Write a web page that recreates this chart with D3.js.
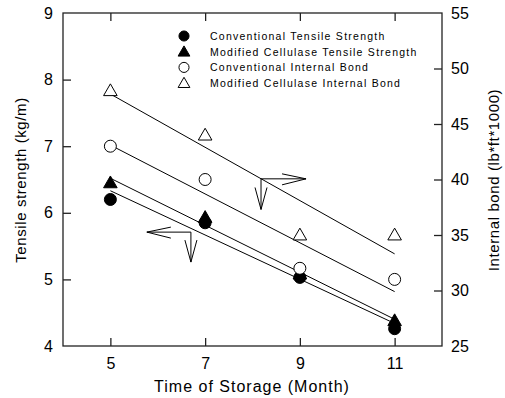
<!DOCTYPE html>
<html>
<head>
<meta charset="utf-8">
<script src="https://cdn.jsdelivr.net/npm/d3@7"></script>
<style>
body{margin:0;background:#fff;}
text{font-family:Arial,"Liberation Sans",sans-serif;fill:#000;}
</style>
</head>
<body>
<svg id="c" width="505" height="398"></svg>
<script>
// ---- data ----
const months = [5, 7, 9, 11];
const convTensile = [6.2, 5.85, 5.03, 4.26];
const modTensile = [6.45, 5.93, 5.08, 4.38];
const convBond = [43, 40, 32, 31];
const modBond = [48, 44, 35, 35];
const xTicks = [5, 7, 9, 11];
const yLeftTicks = [4, 5, 6, 7, 8, 9];
const yRightTicks = [25, 30, 35, 40, 45, 50, 55];
const legendLabels = ["Conventional Tensile Strength", "Modified Cellulase Tensile Strength",
  "Conventional Internal Bond", "Modified Cellulase Internal Bond"];
// annotation arrows (corner, horizontal end, vertical end) in data units of left axis
const arrowLeft = {x: 6.70, y: 5.71, xEnd: 5.77, yEnd: 5.26};
const arrowRight = {x: 8.18, y: 6.51, xEnd: 9.13, yEnd: 6.05};

const svg = d3.select("#c");
const m = {l: 63, r: 442, t: 13, b: 346};
const x = d3.scaleLinear().domain([4, 12]).range([m.l, m.r]);
const yL = d3.scaleLinear().domain([4, 9]).range([m.b, m.t]);
const yR = d3.scaleLinear().domain([25, 55]).range([m.b, m.t]);

// frame
const axCol = "#222";
svg.append("rect").attr("x", m.l).attr("y", m.t).attr("width", m.r - m.l).attr("height", m.b - m.t)
  .attr("fill", "none").attr("stroke", axCol).attr("stroke-width", 1.3);

const tickLen = 8;
const fmt = d3.format("d");
// axes (ticks inward)
const gB = svg.append("g").attr("transform", `translate(0,${m.b})`)
  .call(d3.axisBottom(x).tickValues(xTicks).tickFormat(fmt).tickSizeInner(-tickLen).tickSizeOuter(0).tickPadding(12));
const gT = svg.append("g").attr("transform", `translate(0,${m.t})`)
  .call(d3.axisTop(x).tickValues(xTicks).tickSizeInner(-tickLen).tickSizeOuter(0).tickFormat(""));
const gL = svg.append("g").attr("transform", `translate(${m.l},0)`)
  .call(d3.axisLeft(yL).tickValues(yLeftTicks).tickFormat(fmt).tickSizeInner(-tickLen).tickSizeOuter(0).tickPadding(10));
const gR = svg.append("g").attr("transform", `translate(${m.r},0)`)
  .call(d3.axisRight(yR).tickValues(yRightTicks).tickFormat(fmt).tickSizeInner(-tickLen).tickSizeOuter(0).tickPadding(9));
[gB, gT, gL, gR].forEach(g => {
  g.select(".domain").remove();
  g.selectAll(".tick line").attr("stroke", axCol).attr("stroke-width", 1.3);
  g.selectAll(".tick text").attr("font-size", 16).attr("font-family", "Arial, 'Liberation Sans', sans-serif").attr("fill", "#000");
});
gL.selectAll(".tick").filter(d => d === 4 || d === 9).select("line").remove();
gR.selectAll(".tick").filter(d => d === 25 || d === 55).select("line").remove();

// regression lines
function fit(xs, ys) {
  const mx = d3.mean(xs), my = d3.mean(ys);
  const s = d3.sum(xs, (v, i) => (v - mx) * (ys[i] - my)) / d3.sum(xs, v => (v - mx) ** 2);
  return v => my + s * (v - mx);
}
const series = [
  {vals: convTensile, y: yL, sym: "circle", fill: "#000"},
  {vals: modTensile, y: yL, sym: "triangle", fill: "#000"},
  {vals: convBond, y: yR, sym: "circle", fill: "#fff"},
  {vals: modBond, y: yR, sym: "triangle", fill: "#fff"}
];
const x0 = d3.min(months), x1 = d3.max(months);
series.forEach(s => {
  const f = fit(months, s.vals);
  svg.append("line").attr("x1", x(x0)).attr("y1", s.y(f(x0))).attr("x2", x(x1)).attr("y2", s.y(f(x1)))
    .attr("stroke", "#000").attr("stroke-width", 1);
});
function symPath(sym, size) {
  return d3.symbol().type(sym === "circle" ? d3.symbolCircle : d3.symbolTriangle).size(size)();
}
const order = [3, 1, 0, 2];
order.forEach(k => {
  const s = series[k];
  svg.append("g").selectAll("path").data(months).join("path")
    .attr("d", symPath(s.sym, s.sym === "circle" ? 113 : 80))
    .attr("transform", (d, i) => `translate(${x(d)},${s.y(s.vals[i]) + (s.sym === "triangle" ? 1 : 0)})`)
    .attr("fill", s.fill).attr("stroke", "#000").attr("stroke-width", 1);
});

// arrows
function arrow(a, dirH) {
  const cx = x(a.x), cy = yL(a.y), hx = x(a.xEnd), vy = yL(a.yEnd);
  const g = svg.append("g").attr("fill", "none").attr("stroke", "#000").attr("stroke-width", 1);
  g.append("path").attr("d", `M${cx},${cy}H${hx}`);
  g.append("path").attr("d", `M${cx},${cy}V${vy}`);
  const hl = 24 * dirH;
  g.append("path").attr("d", `M${hx + hl},${cy - 5}L${hx},${cy}L${hx + hl},${cy + 6}`);
  g.append("path").attr("d", `M${cx - 6},${vy - 22}L${cx},${vy}L${cx + 6},${vy - 22}`);
}
arrow(arrowLeft, 1);
arrow(arrowRight, -1);

// legend
const lg = svg.append("g");
const lx = 184, ly0 = 36, dy = 15.7;
series.forEach((s, i) => {
  lg.append("path").attr("d", symPath(s.sym, s.sym === "circle" ? 80 : 60))
    .attr("transform", `translate(${lx},${ly0 + i * dy + (s.sym === "triangle" ? 1 : 0)})`)
    .attr("fill", s.fill).attr("stroke", "#000").attr("stroke-width", 1);
  lg.append("text").attr("x", 210).attr("y", ly0 + i * dy + 4).attr("font-size", 10.5)
    .attr("letter-spacing", 1.25).text(legendLabels[i]);
});

// axis titles
svg.append("text").attr("x", 252).attr("y", 392).attr("text-anchor", "middle").attr("font-size", 16)
  .attr("letter-spacing", 1).text("Time of Storage (Month)");
svg.append("text").attr("transform", `translate(26,180) rotate(-90)`).attr("text-anchor", "middle")
  .attr("font-size", 15).attr("letter-spacing", 0.6).text("Tensile strength (kg/m)");
svg.append("text").attr("transform", `translate(499,180) rotate(-90)`).attr("text-anchor", "middle")
  .attr("font-size", 15).attr("letter-spacing", 0.6).text("Internal bond (lb*ft*1000)");
</script>
</body>
</html>
